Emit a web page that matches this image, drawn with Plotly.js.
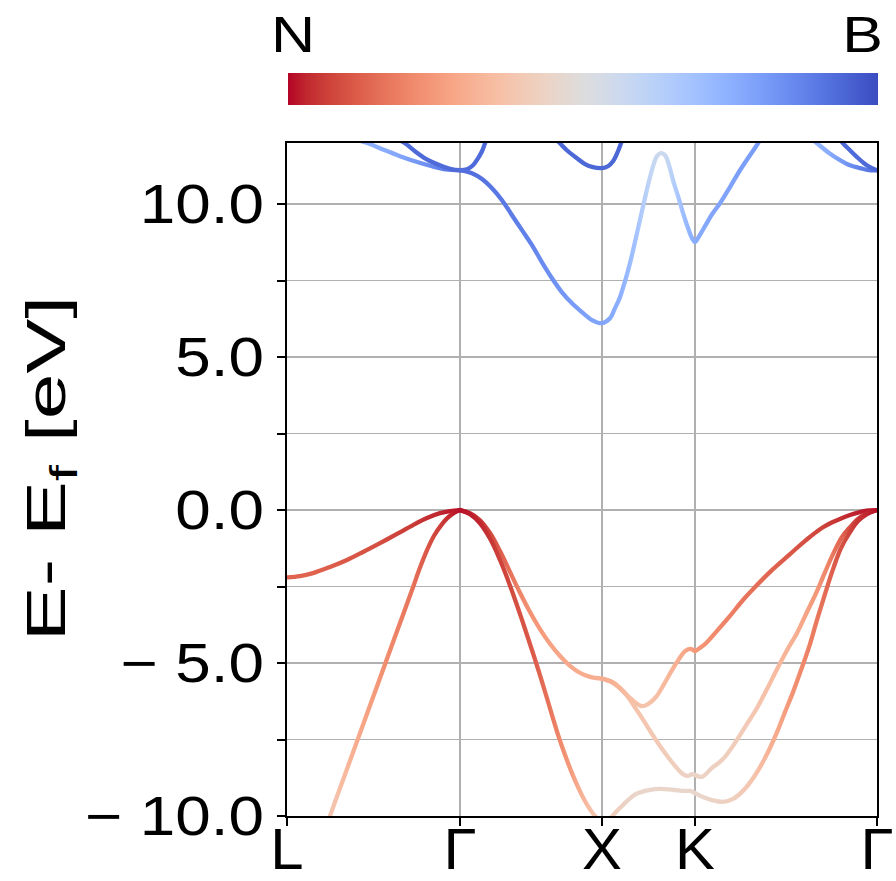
<!DOCTYPE html>
<html>
<head>
<meta charset="utf-8">
<script src="https://cdn.plot.ly/plotly-3.0.1.min.js"></script>
<style>
  html, body { margin: 0; padding: 0; background: #ffffff; }
  #plot { width: 896px; height: 881px; }
  .scatterlayer .js-line { stroke-linecap: round; stroke-linejoin: round; }
</style>
</head>
<body>
<div id="plot"></div>
<script>
// High-symmetry points along the k-path
const kTicks = [0, 1.73, 3.15, 4.08, 5.90];
const kLabels = ['L', 'Γ', 'X', 'K', 'Γ'];
const eTicks = [-10, -7.5, -5, -2.5, 0, 2.5, 5, 7.5, 10];
const eLabels = ['− 10.0', '', '− 5.0', '', '0.0', '', '5.0', '', '10.0'];

// Band energies (eV relative to E_f) with projected character: 0 = N, 1 = B
// Valence bands, L -> Γ
const v1K = [0, 0.13, 0.26, 0.43, 0.60, 0.76, 0.93, 1.10, 1.26, 1.40, 1.53, 1.63, 1.73];
const v1E = [-2.20, -2.16, -2.06, -1.86, -1.63, -1.37, -1.08, -0.78, -0.49, -0.26, -0.10, -0.03, 0];
const v1W = [0.13, 0.13, 0.13, 0.12, 0.11, 0.10, 0.09, 0.07, 0.06, 0.04, 0.03, 0.02, 0.01];

const v2K = [0.38, 0.44, 0.58, 0.71, 0.85, 0.98, 1.12, 1.26, 1.33, 1.40, 1.47, 1.55, 1.61, 1.67, 1.73];
const v2E = [-10.44, -9.90, -8.64, -7.47, -6.21, -5.04, -3.78, -2.52, -1.88, -1.31, -0.84, -0.46, -0.24, -0.09, 0];
const v2W = [0.40, 0.38, 0.34, 0.29, 0.26, 0.22, 0.19, 0.16, 0.13, 0.11, 0.08, 0.06, 0.04, 0.02, 0.01];

// Valence bands, Γ -> X
const v3K = [1.73, 1.83, 1.93, 2.03, 2.13, 2.23, 2.33, 2.43, 2.53, 2.63, 2.73, 2.83, 2.93, 3.03, 3.15];
const v3E = [0, -0.10, -0.33, -0.75, -1.34, -2.02, -2.70, -3.33, -3.89, -4.37, -4.77, -5.09, -5.32, -5.45, -5.51];
const v3W = [0.01, 0.03, 0.05, 0.08, 0.12, 0.16, 0.20, 0.23, 0.25, 0.27, 0.28, 0.29, 0.30, 0.30, 0.31];

const v4K = [1.73, 1.83, 1.93, 2.03, 2.13, 2.21, 2.28, 2.35, 2.41, 2.48, 2.54, 2.60, 2.66, 2.71, 2.78, 2.85, 2.92, 2.98, 3.03, 3.08, 3.15];
const v4E = [0, -0.13, -0.43, -0.93, -1.63, -2.29, -2.92, -3.59, -4.18, -4.88, -5.50, -6.15, -6.81, -7.34, -8.00, -8.60, -9.12, -9.51, -9.78, -10.00, -10.21];
const v4W = [0.01, 0.02, 0.03, 0.05, 0.07, 0.08, 0.09, 0.10, 0.11, 0.12, 0.14, 0.16, 0.18, 0.20, 0.23, 0.26, 0.30, 0.33, 0.36, 0.38, 0.40];

// Valence bands, X -> K
const v5K = [3.15, 3.25, 3.33, 3.41, 3.49, 3.55, 3.61, 3.69, 3.77, 3.85, 3.92, 3.98, 4.03, 4.08];
const v5E = [-5.51, -5.62, -5.82, -6.08, -6.31, -6.41, -6.34, -6.11, -5.69, -5.23, -4.87, -4.61, -4.54, -4.61];
const v5W = [0.30, 0.31, 0.33, 0.35, 0.36, 0.37, 0.37, 0.36, 0.34, 0.32, 0.30, 0.28, 0.26, 0.25];

const v6K = [3.15, 3.25, 3.33, 3.41, 3.49, 3.57, 3.65, 3.73, 3.81, 3.89, 3.96, 4.01, 4.05, 4.08];
const v6E = [-5.51, -5.62, -5.82, -6.11, -6.50, -6.90, -7.32, -7.71, -8.07, -8.40, -8.63, -8.69, -8.63, -8.66];
const v6W = [0.30, 0.31, 0.33, 0.35, 0.37, 0.38, 0.39, 0.40, 0.41, 0.42, 0.43, 0.44, 0.44, 0.44];

const v7K = [3.15, 3.21, 3.28, 3.35, 3.41, 3.49, 3.58, 3.68, 3.78, 3.88, 3.98, 4.03, 4.08];
const v7E = [-10.33, -10.16, -9.90, -9.67, -9.48, -9.28, -9.18, -9.12, -9.12, -9.15, -9.18, -9.18, -9.25];
const v7W = [0.40, 0.41, 0.42, 0.43, 0.44, 0.45, 0.45, 0.45, 0.45, 0.45, 0.45, 0.45, 0.45];

// Valence bands, K -> Γ
const v8K = [4.08, 4.18, 4.30, 4.43, 4.56, 4.70, 4.86, 5.03, 5.19, 5.36, 5.50, 5.63, 5.77, 5.90];
const v8E = [-4.61, -4.38, -3.95, -3.46, -2.94, -2.45, -1.93, -1.44, -0.98, -0.56, -0.33, -0.16, -0.03, 0];
const v8W = [0.25, 0.23, 0.21, 0.19, 0.17, 0.15, 0.13, 0.11, 0.09, 0.07, 0.05, 0.03, 0.02, 0.01];

const v9K = [4.08, 4.15, 4.25, 4.36, 4.48, 4.60, 4.70, 4.80, 4.90, 5.00, 5.10, 5.20, 5.30, 5.38, 5.46, 5.55, 5.63, 5.71, 5.80, 5.90];
const v9E = [-8.66, -8.72, -8.43, -8.14, -7.61, -6.99, -6.47, -5.85, -5.20, -4.58, -4.02, -3.33, -2.65, -2.03, -1.44, -0.88, -0.56, -0.29, -0.10, 0];
const v9W = [0.44, 0.44, 0.43, 0.42, 0.41, 0.40, 0.38, 0.36, 0.34, 0.32, 0.30, 0.27, 0.24, 0.21, 0.17, 0.13, 0.09, 0.06, 0.03, 0.01];

const v10K = [4.08, 4.16, 4.25, 4.36, 4.46, 4.55, 4.64, 4.73, 4.81, 4.90, 4.98, 5.06, 5.14, 5.22, 5.30, 5.38, 5.46, 5.54, 5.63, 5.71, 5.80, 5.90];
const v10E = [-9.25, -9.38, -9.48, -9.54, -9.44, -9.21, -8.86, -8.40, -7.91, -7.26, -6.60, -5.95, -5.23, -4.48, -3.59, -2.74, -1.93, -1.24, -0.72, -0.36, -0.13, 0];
const v10W = [0.45, 0.45, 0.44, 0.43, 0.42, 0.40, 0.38, 0.35, 0.32, 0.29, 0.26, 0.23, 0.21, 0.19, 0.17, 0.15, 0.12, 0.10, 0.07, 0.05, 0.03, 0.01];

// Conduction bands
const c1K = [0.68, 0.81, 0.98, 1.13, 1.31, 1.45, 1.59, 1.73];
const c1E = [12.12, 11.99, 11.76, 11.57, 11.37, 11.24, 11.14, 11.11];
const c1W = [0.74, 0.75, 0.76, 0.78, 0.82, 0.86, 0.89, 0.91];

const c2K = [1.11, 1.18, 1.28, 1.38, 1.48, 1.58, 1.65, 1.73];
const c2E = [12.12, 11.99, 11.73, 11.50, 11.34, 11.21, 11.14, 11.11];
const c2W = [0.93, 0.93, 0.93, 0.93, 0.93, 0.93, 0.93, 0.93];

const c3K = [1.73, 1.80, 1.86, 1.91, 1.95, 1.98, 2.00];
const c3E = [11.11, 11.14, 11.27, 11.50, 11.73, 11.99, 12.16];
const c3W = [0.93, 0.93, 0.93, 0.93, 0.93, 0.93, 0.93];

const c4K = [1.73, 1.85, 1.95, 2.05, 2.15, 2.25, 2.35, 2.45, 2.55, 2.65, 2.75, 2.85, 2.95, 3.05, 3.15,
             3.23, 3.28, 3.33, 3.38, 3.43, 3.48, 3.53, 3.58, 3.63, 3.67, 3.70, 3.74, 3.78, 3.82, 3.86,
             3.91, 3.96, 4.01, 4.05, 4.08, 4.12, 4.18, 4.25, 4.33, 4.43, 4.53, 4.63, 4.71, 4.75];
const c4E = [11.11, 11.01, 10.82, 10.52, 10.13, 9.64, 9.15, 8.66, 8.10, 7.58, 7.12, 6.76, 6.47, 6.21, 6.11,
             6.27, 6.60, 6.96, 7.48, 8.07, 8.76, 9.48, 10.20, 10.88, 11.34, 11.57, 11.67, 11.60, 11.27, 10.78,
             10.26, 9.71, 9.22, 8.89, 8.76, 8.95, 9.28, 9.67, 10.03, 10.56, 11.11, 11.60, 11.99, 12.22];
const c4W = [0.92, 0.92, 0.91, 0.90, 0.90, 0.89, 0.88, 0.87, 0.85, 0.84, 0.82, 0.81, 0.80, 0.79, 0.78,
             0.77, 0.76, 0.75, 0.73, 0.71, 0.69, 0.66, 0.63, 0.60, 0.58, 0.57, 0.56, 0.57, 0.60, 0.63,
             0.67, 0.70, 0.73, 0.75, 0.76, 0.77, 0.77, 0.78, 0.78, 0.79, 0.80, 0.80, 0.81, 0.81];

const c5K = [2.68, 2.73, 2.81, 2.90, 2.98, 3.06, 3.15, 3.21, 3.26, 3.31, 3.34, 3.36];
const c5E = [12.16, 11.99, 11.73, 11.50, 11.31, 11.21, 11.18, 11.24, 11.40, 11.73, 11.99, 12.16];
const c5W = [0.94, 0.94, 0.94, 0.94, 0.94, 0.94, 0.94, 0.94, 0.94, 0.94, 0.94, 0.94];

const c6K = [5.25, 5.30, 5.41, 5.53, 5.63, 5.73, 5.82, 5.90];
const c6E = [12.12, 11.99, 11.70, 11.44, 11.27, 11.18, 11.11, 11.11];
const c6W = [0.72, 0.73, 0.76, 0.80, 0.84, 0.88, 0.90, 0.91];

const c7K = [5.53, 5.56, 5.63, 5.70, 5.77, 5.83, 5.90];
const c7E = [12.12, 11.99, 11.76, 11.54, 11.34, 11.21, 11.11];
const c7W = [0.93, 0.93, 0.93, 0.93, 0.93, 0.93, 0.93];

// Diverging N (red) -> B (blue) colour scale
const nbScale = [
  [0.0, 'rgb(180,4,38)'], [0.03125, 'rgb(192,40,47)'], [0.0625, 'rgb(203,62,56)'], [0.09375, 'rgb(213,80,66)'],
  [0.125, 'rgb(222,96,77)'], [0.15625, 'rgb(229,112,88)'], [0.1875, 'rgb(236,127,99)'], [0.21875, 'rgb(241,141,111)'],
  [0.25, 'rgb(244,154,123)'], [0.28125, 'rgb(247,166,135)'], [0.3125, 'rgb(247,177,148)'], [0.34375, 'rgb(247,187,160)'],
  [0.375, 'rgb(245,196,173)'], [0.40625, 'rgb(241,204,185)'], [0.4375, 'rgb(236,211,197)'], [0.46875, 'rgb(229,216,209)'],
  [0.5, 'rgb(221,221,221)'], [0.53125, 'rgb(213,219,230)'], [0.5625, 'rgb(204,217,238)'], [0.59375, 'rgb(194,213,244)'],
  [0.625, 'rgb(184,208,249)'], [0.65625, 'rgb(174,201,253)'], [0.6875, 'rgb(163,194,255)'], [0.71875, 'rgb(152,185,255)'],
  [0.75, 'rgb(141,176,254)'], [0.78125, 'rgb(130,165,251)'], [0.8125, 'rgb(119,154,247)'], [0.84375, 'rgb(108,142,241)'],
  [0.875, 'rgb(98,130,234)'], [0.90625, 'rgb(87,117,225)'], [0.9375, 'rgb(77,104,215)'], [0.96875, 'rgb(68,90,204)'],
  [1.0, 'rgb(59,76,192)']
];

const bands = [
  [v1K, v1E, v1W], [v2K, v2E, v2W], [v3K, v3E, v3W], [v4K, v4E, v4W], [v5K, v5E, v5W],
  [v6K, v6E, v6W], [v7K, v7E, v7W], [v8K, v8E, v8W], [v9K, v9E, v9W], [v10K, v10E, v10W],
  [c1K, c1E, c1W], [c2K, c2E, c2W], [c3K, c3E, c3W], [c4K, c4E, c4W], [c5K, c5E, c5W],
  [c6K, c6E, c6W], [c7K, c7E, c7W]
];

function rgbOf(s) { return s.match(/\d+/g).map(Number); }
function colourAt(t) {
  t = Math.max(0, Math.min(1, t));
  for (let i = 1; i < nbScale.length; i++) {
    if (t <= nbScale[i][0]) {
      const [t0, s0] = nbScale[i - 1], [t1, s1] = nbScale[i];
      const f = (t - t0) / (t1 - t0), a = rgbOf(s0), b = rgbOf(s1);
      return 'rgb(' + a.map((v, j) => Math.round(v + (b[j] - v) * f)).join(',') + ')';
    }
  }
  return nbScale[nbScale.length - 1][1];
}

// One smooth line per band; its stroke is later shaded along k by the character.
const traces = bands.map(([k, e, w]) => ({
  type: 'scatter', mode: 'lines', x: k, y: e,
  line: { color: colourAt(w.reduce((a, b) => a + b, 0) / w.length), width: 4.3, shape: 'spline', smoothing: 1 },
  hoverinfo: 'skip', showlegend: false
}));

// Colour bar for the N / B character
traces.push({
  type: 'scatter', mode: 'markers', x: [0, 0], y: [-50, -50],
  hoverinfo: 'skip', showlegend: false,
  marker: {
    color: [0, 1], cmin: 0, cmax: 1, colorscale: nbScale, showscale: true, size: 1,
    colorbar: {
      orientation: 'h', x: 0.5017, xanchor: 'center', y: 1.080, yanchor: 'middle',
      lenmode: 'pixels', len: 590, thicknessmode: 'pixels', thickness: 32,
      outlinewidth: 0, xpad: 0, ypad: 0, ticks: '', showticklabels: false
    }
  }
});

const font = 'Liberation Sans, Arial, sans-serif';
const layout = {
  width: 896, height: 881,
  margin: { l: 287, r: 19, t: 143, b: 65 },
  paper_bgcolor: '#ffffff', plot_bgcolor: '#ffffff',
  font: { family: font, color: '#000000' },
  showlegend: false,
  xaxis: {
    range: [0, 5.90], tickvals: kTicks, ticktext: kLabels,
    showgrid: true, gridcolor: '#b0b0b0', gridwidth: 1.5, zeroline: false,
    showline: true, mirror: true, linecolor: '#000000', linewidth: 2,
    ticks: 'outside', ticklen: 8, tickwidth: 2, tickcolor: '#000000',
    tickfont: { family: font, size: 57 }, ticklabelstandoff: -25
  },
  yaxis: {
    range: [-10, 12], tickvals: eTicks, ticktext: eLabels,
    showgrid: true, gridcolor: '#b0b0b0', gridwidth: 1.5, zeroline: false,
    showline: true, mirror: true, linecolor: '#000000', linewidth: 2,
    ticks: 'outside', ticklen: 8, tickwidth: 2, tickcolor: '#000000',
    tickfont: { family: font, size: 55 }, ticklabelstandoff: 2,
    title: { text: 'E- E<sub>f</sub> [eV]', font: { family: font, size: 56 }, standoff: 26 }
  },
  annotations: [
    { text: 'N', xref: 'paper', yref: 'paper', x: 0.0102, y: 1.1605, xanchor: 'center', yanchor: 'middle',
      showarrow: false, font: { family: font, size: 50, color: '#000000' } },
    { text: 'B', xref: 'paper', yref: 'paper', x: 0.975, y: 1.1605, xanchor: 'center', yanchor: 'middle',
      showarrow: false, font: { family: font, size: 50, color: '#000000' } }
  ]
};

// The labels use a wide face; stretch each run of text along its baseline.
function widen(gd, selector, factor) {
  gd.querySelectorAll(selector).forEach(t => {
    const len = t.getComputedTextLength();
    if (len > 0) {
      t.setAttribute('textLength', (len * factor).toFixed(1));
      t.setAttribute('lengthAdjust', 'spacingAndGlyphs');
    }
  });
}

// Shade each band's stroke along k with the colour of its character.
function shadeBands(gd) {
  const NS = 'http://www.w3.org/2000/svg';
  const xa = gd._fullLayout.xaxis;
  const defs = gd.querySelector('.main-svg defs');
  const layers = gd.querySelectorAll('.scatterlayer .trace');
  bands.forEach(([k, e, w], i) => {
    const path = layers[i] && layers[i].querySelector('path.js-line');
    if (!path) return;
    const p0 = xa.l2p(k[0]), p1 = xa.l2p(k[k.length - 1]);
    const grad = document.createElementNS(NS, 'linearGradient');
    grad.setAttribute('id', 'band-shade-' + i);
    grad.setAttribute('gradientUnits', 'userSpaceOnUse');
    grad.setAttribute('x1', p0); grad.setAttribute('x2', p1);
    grad.setAttribute('y1', 0); grad.setAttribute('y2', 0);
    k.forEach((kk, j) => {
      const stop = document.createElementNS(NS, 'stop');
      stop.setAttribute('offset', ((xa.l2p(kk) - p0) / (p1 - p0)).toFixed(4));
      stop.setAttribute('stop-color', colourAt(w[j]));
      grad.appendChild(stop);
    });
    defs.appendChild(grad);
    path.style.stroke = 'url(#band-shade-' + i + ')';
  });
}

Plotly.newPlot('plot', traces, layout, { staticPlot: true, displayModeBar: false }).then(gd => {
  shadeBands(gd);
  widen(gd, '.ytick text', 1.16);
  widen(gd, '.xtick text', 1.05);
  widen(gd, '.annotation-text', 1.22);
  widen(gd, '.ytitle', 1.47);
  const title = gd.querySelector('.ytitle');
  if (title) title.setAttribute('dx', '11');
});
</script>
</body>
</html>
